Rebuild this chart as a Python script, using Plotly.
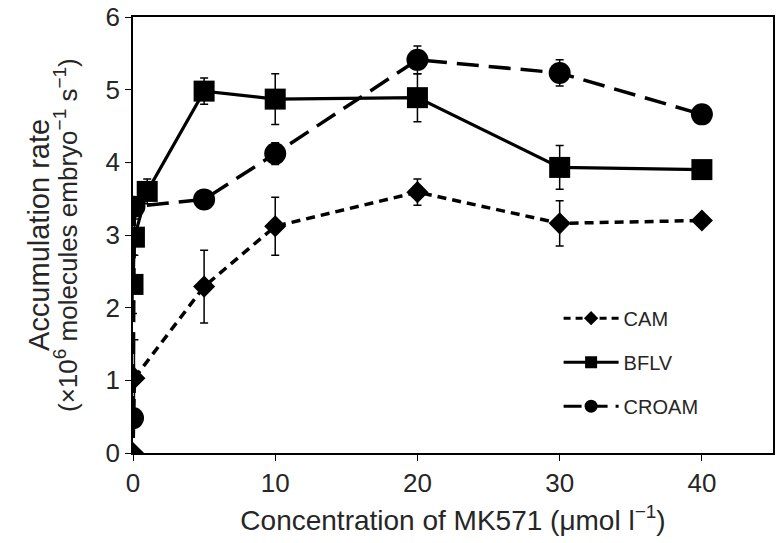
import plotly.graph_objects as go

# Data
cam_x = [0, 0.1, 5, 10, 20, 30, 40]
cam_y = [0.0, 1.03, 2.29, 3.12, 3.59, 3.16, 3.20]
cam_err = [0, 0.53, 0.50, 0.40, 0.18, 0.31, 0]

bflv_x = [0, 0.1, 1, 5, 10, 20, 30, 40]
bflv_y = [2.32, 2.97, 3.60, 4.98, 4.87, 4.89, 3.93, 3.90]
bflv_err = [0.40, 0.25, 0.17, 0.18, 0.35, 0.33, 0.30, 0]

croam_x = [0, 0.1, 5, 10, 20, 30, 40]
croam_y = [0.48, 3.39, 3.49, 4.12, 5.41, 5.23, 4.66]
croam_err = [0, 0, 0, 0.15, 0.19, 0.18, 0]

x_ticks = [0, 10, 20, 30, 40]
y_ticks = [0, 1, 2, 3, 4, 5, 6]

SUP = '<sup><span style="font-size:19px">{}</span></sup>'
y_title_1 = "Accumulation rate"
y_title_2 = ("(×10" + SUP.format("6") + " molecules embryo" + SUP.format("−1")
             + " s" + SUP.format("−1") + ")")
x_title = "Concentration of MK571 (μmol l" + SUP.format("−1") + ")"

FONT = "Liberation Sans"
TXT = "#262626"

fig = go.Figure()

def err(arr):
    return dict(type="data", array=arr, visible=True, color="black",
                thickness=1.5, width=4)

fig.add_trace(go.Scatter(x=cam_x, y=cam_y, mode="lines+markers", name="CAM",
                         line=dict(color="black", width=3.5, dash="9px,6px"),
                         marker=dict(symbol="diamond", size=17, color="black"),
                         error_y=err(cam_err), showlegend=False))
fig.add_trace(go.Scatter(x=bflv_x, y=bflv_y, mode="lines+markers", name="BFLV",
                         line=dict(color="black", width=3.2),
                         marker=dict(symbol="square", size=21, color="black"),
                         error_y=err(bflv_err), showlegend=False))
fig.add_trace(go.Scatter(x=croam_x, y=croam_y, mode="lines+markers", name="CROAM",
                         line=dict(color="black", width=3.5, dash="22px,10px"),
                         marker=dict(symbol="circle", size=22, color="black"),
                         error_y=err(croam_err), showlegend=False))

# legend entries (smaller symbols, like the reference legend)
fig.add_trace(go.Scatter(x=[None], y=[None], mode="lines+markers", name="CAM",
                         line=dict(color="black", width=3, dash="7px,5px"),
                         marker=dict(symbol="diamond", size=11, color="black"),
                         legendgroup="a"))
fig.add_trace(go.Scatter(x=[None], y=[None], mode="lines+markers", name="BFLV",
                         line=dict(color="black", width=3),
                         marker=dict(symbol="square", size=12, color="black"),
                         legendgroup="b"))
fig.add_trace(go.Scatter(x=[None], y=[None], mode="lines+markers", name="CROAM",
                         line=dict(color="black", width=3, dash="18px,8px"),
                         marker=dict(symbol="circle", size=13, color="black"),
                         legendgroup="c"))

fig.update_layout(
    width=777, height=543,
    margin=dict(l=133, r=4, t=17, b=90, autoexpand=False),
    paper_bgcolor="white", plot_bgcolor="white",
    font=dict(family=FONT, color=TXT, size=20),
    legend=dict(x=0.665, y=0.354, xanchor="left", yanchor="top",
                font=dict(size=20, color=TXT), tracegroupgap=15,
                itemwidth=55, bgcolor="rgba(0,0,0,0)"),
    xaxis=dict(range=[0, 45], tickvals=x_ticks, ticks="outside", ticklen=6,
               tickwidth=1, tickcolor="black", automargin=False,
               showline=True, linecolor="black", linewidth=1.5, mirror=True,
               showgrid=False, zeroline=False,
               tickfont=dict(size=26),
               title=dict(text=x_title, font=dict(size=28), standoff=13)),
    yaxis=dict(range=[0, 6], tickvals=y_ticks, ticks="outside", ticklen=6,
               tickwidth=1, tickcolor="black", automargin=False,
               showline=True, linecolor="black", linewidth=1.5, mirror=True,
               showgrid=False, zeroline=False,
               tickfont=dict(size=26)),
    annotations=[
        dict(text=y_title_1, xref="paper", yref="paper", x=(39 - 133) / 640,
             y=0.5, xanchor="center", yanchor="middle", textangle=-90,
             showarrow=False, font=dict(size=29, color=TXT)),
        dict(text=y_title_2, xref="paper", yref="paper", x=(66 - 133) / 640,
             y=0.5, xanchor="center", yanchor="middle", textangle=-90,
             showarrow=False, font=dict(size=26, color=TXT)),
    ],
)

fig.write_html("out.html", config={"displayModeBar": False})

# remove the browser's default 8px body margin so the figure sits at (0,0)
with open("out.html", "r", encoding="utf-8") as f:
    html = f.read()
html = html.replace("<body>", '<body style="margin:0;padding:0;overflow:hidden;">', 1)
with open("out.html", "w", encoding="utf-8") as f:
    f.write(html)
